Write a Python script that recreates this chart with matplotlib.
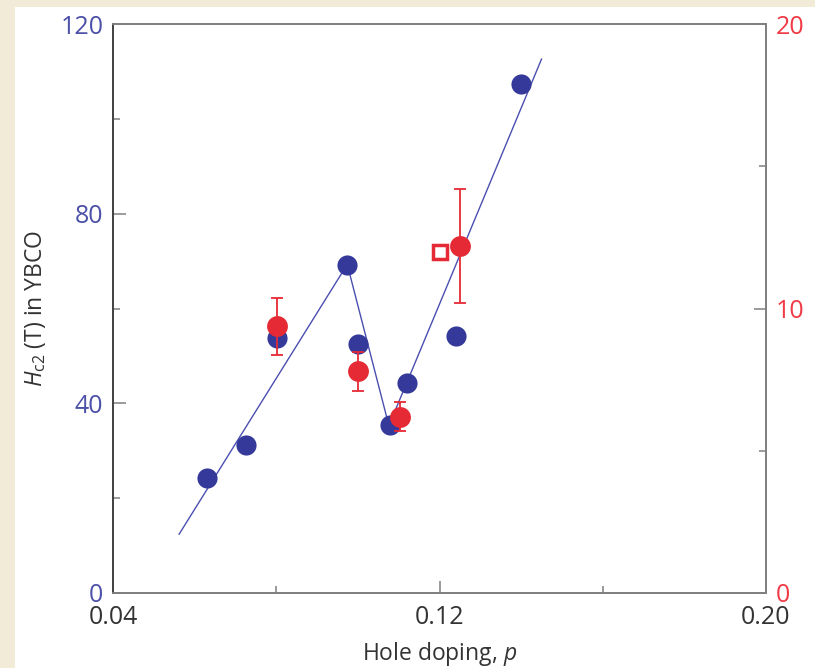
import matplotlib
matplotlib.use("Agg")
import matplotlib.pyplot as plt
from matplotlib.patches import Rectangle
from matplotlib.ticker import MultipleLocator

# ---- data ----
p_blue = [0.0631, 0.0725, 0.0801, 0.0974, 0.1001, 0.1079, 0.1120, 0.1240, 0.1400]
hc2_blue = [24.2, 31.2, 53.7, 69.2, 52.6, 35.4, 44.3, 54.2, 107.3]

p_line = [0.0562, 0.0974, 0.1076, 0.1450]
hc2_line = [12.4, 69.3, 35.3, 112.6]

p_red = [0.0801, 0.1001, 0.1102, 0.1250]
val_red = [9.38, 7.79, 6.20, 12.21]
err_red = [1.0, 0.69, 0.50, 2.0]

p_square = [0.1201]
val_square = [12.0]

x_ticks = [0.04, 0.12, 0.20]
x_ticklabels = ["0.04", "0.12", "0.20"]
yl_ticks = [0, 40, 80, 120]
yr_ticks = [0, 10, 20]

# ---- style ----
plt.rcParams['font.family'] = ['Open Sans', 'DejaVu Sans']
plt.rcParams['mathtext.fontset'] = 'custom'
plt.rcParams['mathtext.rm'] = 'Open Sans:style=normal:weight=normal'
plt.rcParams['mathtext.sf'] = 'Open Sans:style=normal:weight=normal'
plt.rcParams['mathtext.it'] = 'Open Sans:style=italic'

BLUE = '#34399a'
LINE = '#4a4fb0'
RED = '#e52a35'
LBLUE_TXT = '#4b50a8'
RED_TXT = '#f03a45'
TXT = '#333333'
SPINE = '#808080'

fig = plt.figure(figsize=(8.15, 6.68), dpi=100, facecolor='#f2ebd7')
fig.patches.append(Rectangle((15 / 815, 0), 1, (668 - 7) / 668, transform=fig.transFigure,
                             facecolor='white', edgecolor='none', zorder=-10))

ax = fig.add_axes([113 / 815, (668 - 593) / 668, (766 - 113) / 815, (593 - 24) / 668])
ax.set_facecolor('white')
ax2 = ax.twinx()

ax.plot(p_line, hc2_line, color=LINE, lw=1.0, zorder=2)
ax.plot(p_blue, hc2_blue, 'o', color=BLUE, ms=14.5, mec='none', zorder=3)

ax2.errorbar(p_red, val_red, yerr=err_red, fmt='o', color=RED, ms=15, mec='none',
             elinewidth=1.3, capsize=4.5, capthick=1.3, zorder=4)
ax2.plot(p_square, val_square, 's', mfc='white', mec=RED, mew=2.5, ms=9.5, zorder=4)

ax.set_xlim(0.04, 0.20)
ax.set_ylim(0, 120)
ax2.set_ylim(0, 20)

ax.set_xticks(x_ticks)
ax.set_xticklabels(x_ticklabels)
ax.xaxis.set_minor_locator(MultipleLocator(0.04))
ax.set_yticks(yl_ticks)
ax.yaxis.set_minor_locator(MultipleLocator(20))
ax2.set_yticks(yr_ticks)
ax2.yaxis.set_minor_locator(MultipleLocator(5))

FS = 18
ax.tick_params(axis='x', which='major', direction='in', length=9, width=1.1, color=SPINE,
               labelsize=FS, labelcolor=TXT, pad=9)
ax.tick_params(axis='x', which='minor', direction='in', length=5, width=1.1, color=SPINE)
ax.tick_params(axis='x', which='both', top=False)
ax.tick_params(axis='y', which='major', direction='in', length=9, width=1.1, color=SPINE,
               labelsize=FS, labelcolor=LBLUE_TXT, pad=7)
ax.tick_params(axis='y', which='minor', direction='in', length=5, width=1.1, color=SPINE)
ax2.tick_params(axis='y', which='major', direction='in', length=9, width=1.1, color=SPINE,
                labelsize=FS, labelcolor=RED_TXT, pad=7)
ax2.tick_params(axis='y', which='minor', direction='in', length=5, width=1.1, color=SPINE)

for a in (ax, ax2):
    for s in a.spines.values():
        s.set_color(SPINE)
        s.set_linewidth(1.3)
ax.spines['left'].set_color('#444444')
ax2.spines['left'].set_color('#444444')

ax.set_xlabel(r'Hole doping, $\mathit{p}$', fontsize=16.5, color=TXT, labelpad=7)
ax.set_ylabel(r'$\mathit{H}_{\mathrm{c2}}$ (T) in YBCO', fontsize=16.5, color=TXT,
              labelpad=9)

fig.savefig('out.png', dpi=100, facecolor=fig.get_facecolor())
